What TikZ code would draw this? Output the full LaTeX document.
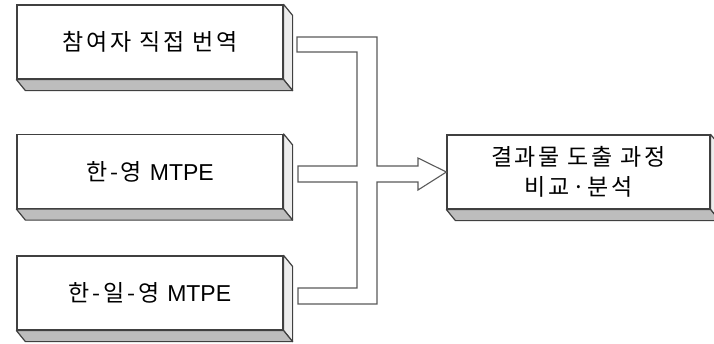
\documentclass[tikz,border=0pt]{standalone}
\usepackage{fontspec}
\setmainfont[LetterSpace=12]{Noto Sans CJK KR}
\newfontfamily\lat{Liberation Sans}
\definecolor{edgecol}{HTML}{404040}
\definecolor{sidecol}{HTML}{EDEDED}
\definecolor{botcol}{HTML}{BDBDBD}
\definecolor{pipecol}{HTML}{5A5A5A}
\begin{document}
\begin{tikzpicture}[x=1pt,y=-1pt,
  box/.style={draw=edgecol, line width=1.2pt, fill=white, minimum width=266pt,
    minimum height=74pt, inner sep=0pt, align=center,
    font=\fontsize{23}{30}\selectfont},
  face/.style={draw=edgecol, line width=1.2pt, line join=round},
  pipe/.style={draw=pipecol, line width=1.1pt, fill=white, line join=miter}]
\useasboundingbox (0,0) rectangle (714,343);
\fill[white] (0,0) rectangle (714,343);
\node[box] (b1) at (150,42) {참여자 직접 번역};
\node[box] (b2) at (150,171.5) {한-영 {\lat MTPE}};
\node[box] (b3) at (150,293) {한-일-영 {\lat MTPE}};
\node[box, minimum width=263pt] (b4) at (578.5,172) {결과물 도출 과정\\비교·분석};
\foreach \n in {b1,b2,b3,b4}{
  \filldraw[face, fill=sidecol] (\n.north east) -- ([shift={(9,11)}]\n.north east)
    -- ([shift={(9,11)}]\n.south east) -- (\n.south east) -- cycle;
  \filldraw[face, fill=botcol] (\n.south west) -- (\n.south east)
    -- ([shift={(9,11)}]\n.south east) -- ([shift={(9,11)}]\n.south west) -- cycle;
}
\path[pipe] (297,37) -- (377,37) -- (377,166) -- (418,166) -- (418,158)
  -- (b4.west) -- (418,190) -- (418,182) -- (377,182) -- (377,304)
  -- (298,304) -- (298,288) -- (357,288) -- (357,182) -- (298,182)
  -- (298,166) -- (357,166) -- (357,52) -- (297,52) -- cycle;
\end{tikzpicture}
\end{document}
